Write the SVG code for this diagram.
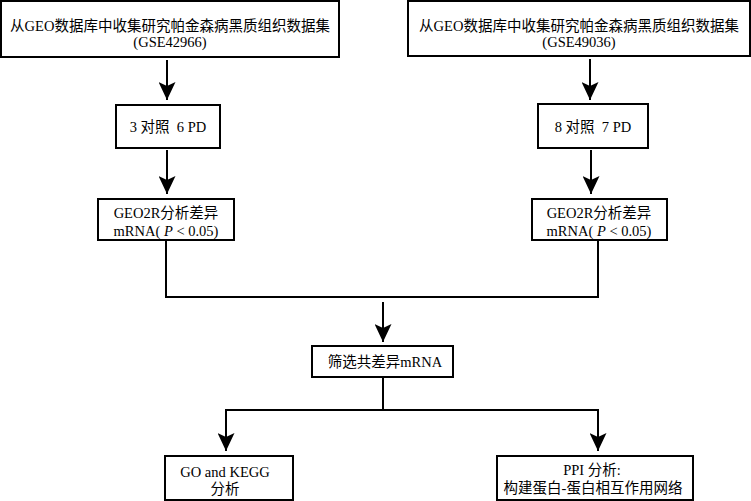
<svg xmlns="http://www.w3.org/2000/svg" width="751" height="501" viewBox="0 0 751 501">
<style>
.box{fill:#fff;stroke:#000;stroke-width:2}
.t{font-family:"Liberation Serif","Noto Sans CJK SC",serif;font-size:14.5px;fill:#000;text-anchor:middle;white-space:pre}
.c{fill:none;stroke:#000;stroke-width:2}
</style>
<defs>
<marker id="ah" viewBox="0 0 18 17" refX="18" refY="8.5" markerWidth="18" markerHeight="17" markerUnits="userSpaceOnUse" orient="auto">
<path d="M0,0 L18,8.5 L0,17 L4,8.5 z" fill="#000"/>
</marker>
</defs>
<rect width="751" height="501" fill="#fff"/>
<g id="connectors">
<line class="c" x1="167" y1="60" x2="167" y2="100" marker-end="url(#ah)"/>
<line class="c" x1="167" y1="150" x2="167" y2="194" marker-end="url(#ah)"/>
<line class="c" x1="590" y1="59" x2="590" y2="100" marker-end="url(#ah)"/>
<line class="c" x1="591" y1="150" x2="591" y2="194" marker-end="url(#ah)"/>
<polyline class="c" points="166,240 166,297 598,297 598,240"/>
<line class="c" x1="383" y1="302" x2="383" y2="342" marker-end="url(#ah)"/>
<polyline class="c" points="383,377 383,410 226,410 226,451" marker-end="url(#ah)"/>
<polyline class="c" points="383,410 598,410 598,451" marker-end="url(#ah)"/>
</g>
<g id="n1">
<rect class="box" x="1" y="1" width="338" height="56"/>
<text class="t" x="170" y="31">从GEO数据库中收集研究帕金森病黑质组织数据集</text>
<text class="t" x="170" y="47">(GSE42966)</text>
</g>
<g id="n2">
<rect class="box" x="408" y="1" width="342" height="55"/>
<text class="t" x="579" y="31">从GEO数据库中收集研究帕金森病黑质组织数据集</text>
<text class="t" x="579" y="47">(GSE49036)</text>
</g>
<g id="n3">
<rect class="box" x="116" y="105" width="104" height="43"/>
<text class="t" x="168" y="132" xml:space="preserve">3 对照  6 PD</text>
</g>
<g id="n4">
<rect class="box" x="538" y="104" width="110" height="44"/>
<text class="t" x="593" y="132" xml:space="preserve">8 对照  7 PD</text>
</g>
<g id="n5">
<rect class="box" x="98" y="199" width="136" height="41"/>
<text class="t" x="166" y="218">GEO2R分析差异</text>
<text class="t" x="166" y="236">mRNA( <tspan font-style="italic">P</tspan> &lt; 0.05)</text>
</g>
<g id="n6">
<rect class="box" x="532" y="199" width="135" height="41"/>
<text class="t" x="599" y="218">GEO2R分析差异</text>
<text class="t" x="599" y="236">mRNA( <tspan font-style="italic">P</tspan> &lt; 0.05)</text>
</g>
<g id="n7">
<rect class="box" x="312" y="346" width="141" height="31"/>
<text class="t" x="385" y="367">筛选共差异mRNA</text>
</g>
<g id="n8">
<rect class="box" x="165" y="456" width="128" height="44"/>
<text class="t" x="225" y="477">GO and KEGG</text>
<text class="t" x="225" y="494">分析</text>
</g>
<g id="n9">
<rect class="box" x="497" y="456" width="196" height="44"/>
<text class="t" x="592" y="475">PPI 分析:</text>
<text class="t" x="593" y="493">构建蛋白-蛋白相互作用网络</text>
</g>
</svg>
